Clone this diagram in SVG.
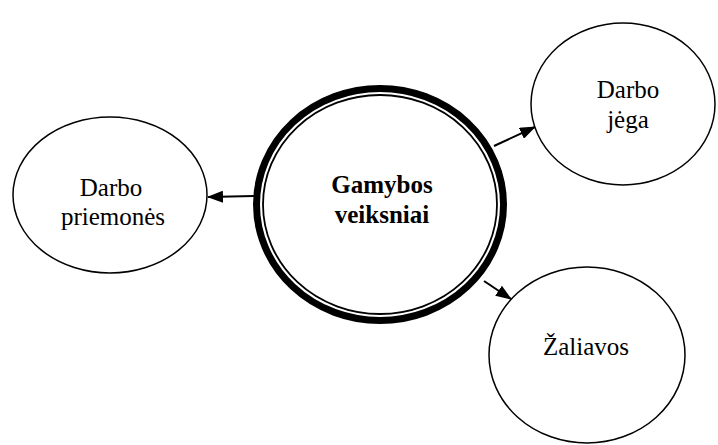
<svg xmlns="http://www.w3.org/2000/svg" width="718" height="445" viewBox="0 0 718 445">
  <style>
    .node { fill: #fff; stroke: #000; stroke-width: 1.5; }
    text { font-family: "Liberation Serif", "DejaVu Serif", serif; font-size: 25px; fill: #000; text-anchor: middle; }
    .bold { font-weight: bold; }
    .link { stroke: #000; stroke-width: 2; fill: none; marker-end: url(#arrow); }
  </style>
  <defs>
    <marker id="arrow" viewBox="0 0 16 12" refX="15" refY="6" markerWidth="16" markerHeight="12" markerUnits="userSpaceOnUse" orient="auto">
      <path d="M0,0 L16,6 L0,12 Z" fill="#000"/>
    </marker>
  </defs>
  <rect width="718" height="445" fill="#fff"/>

  <g id="connectors">
    <line class="link" x1="254" y1="196" x2="208" y2="197"/>
    <line class="link" x1="494" y1="146" x2="535" y2="127"/>
    <line class="link" x1="484" y1="281" x2="511" y2="299"/>
  </g>

  <g id="center">
    <ellipse cx="380" cy="204.5" rx="123.5" ry="116" fill="#fff" stroke="#000" stroke-width="7"/>
    <ellipse cx="380" cy="204.5" rx="117" ry="109.5" fill="none" stroke="#000" stroke-width="1.8"/>
    <text class="bold" x="382" y="193">Gamybos</text>
    <text class="bold" x="382" y="223">veiksniai</text>
  </g>

  <g id="darbo-priemones">
    <ellipse class="node" cx="110" cy="195" rx="97" ry="78"/>
    <text x="111" y="196">Darbo</text>
    <text x="113" y="225">priemonės</text>
  </g>

  <g id="darbo-jega">
    <ellipse class="node" cx="623" cy="104" rx="92" ry="81"/>
    <text x="628" y="98">Darbo</text>
    <text x="628" y="128">jėga</text>
  </g>

  <g id="zaliavos">
    <ellipse class="node" cx="587" cy="355" rx="98" ry="88"/>
    <text x="586" y="355">Žaliavos</text>
  </g>
</svg>
